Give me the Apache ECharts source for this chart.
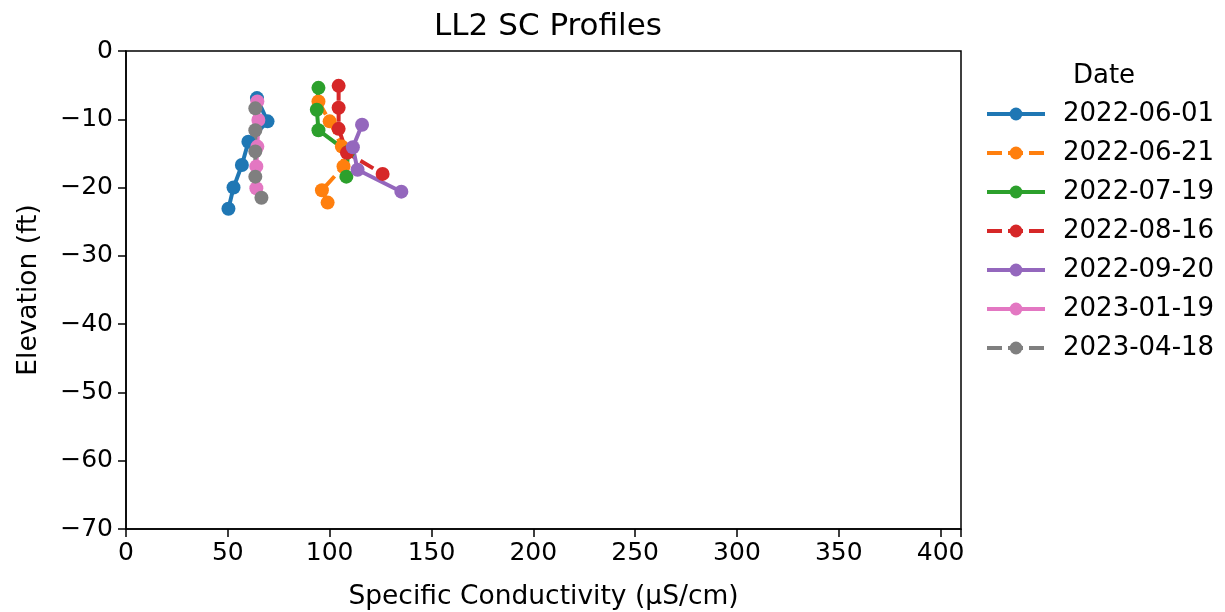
<!DOCTYPE html>
<html>
<head>
<meta charset="utf-8">
<script src="https://cdn.jsdelivr.net/npm/echarts@6/dist/echarts.min.js"></script>
<style>
  html, body { margin: 0; padding: 0; background: #fff; }
  #chart { width: 1225px; height: 612px; }
</style>
</head>
<body>
<div id="chart"></div>
<script>
// 各次测量的剖面数据 [电导率, 高程]
var dates = ['2022-06-01', '2022-06-21', '2022-07-19', '2022-08-16', '2022-09-20', '2023-01-19', '2023-04-18'];
var colors = ['#1f77b4', '#ff7f0e', '#2ca02c', '#d62728', '#9467bd', '#e377c2', '#7f7f7f'];
var dashed = [false, true, false, true, false, false, true];

var p20220601 = [[64.3, -6.9], [69.5, -10.3], [60.1, -13.3], [56.9, -16.7], [52.8, -20.0], [50.3, -23.1]];
var p20220621 = [[94.5, -7.4], [100.0, -10.3], [106.0, -14.0], [106.8, -16.9], [96.2, -20.4], [99.0, -22.2]];
var p20220719 = [[94.5, -5.4], [93.7, -8.6], [94.5, -11.6], [109.0, -14.8], [108.2, -18.4]];
var p20220816 = [[104.4, -5.1], [104.4, -8.3], [104.4, -11.4], [108.5, -14.9], [126.0, -18.0]];
var p20220920 = [[115.9, -10.8], [111.4, -14.1], [113.7, -17.4], [135.2, -20.6]];
var p20230119 = [[64.5, -7.4], [65.0, -10.1], [64.5, -14.0], [64.0, -16.9], [64.0, -20.1]];
var p20230418 = [[63.5, -8.4], [63.5, -11.6], [63.5, -14.7], [63.5, -18.4], [66.5, -21.5]];
var profiles = [p20220601, p20220621, p20220719, p20220816, p20220920, p20230119, p20230418];

var font = 'DejaVu Sans';

window.onload = function () {
    var chart = echarts.init(document.getElementById('chart'));

    var series = [];
    for (var i = 0; i < dates.length; i++) {
        series.push({
            name: dates[i],
            type: 'line',
            data: profiles[i],
            symbol: 'circle',
            symbolSize: 14,
            showAllSymbol: true,
            color: colors[i],
            lineStyle: {
                width: 4,
                color: colors[i],
                type: dashed[i] ? [15, 6] : 'solid'
            },
            itemStyle: { color: colors[i] },
            emphasis: { disabled: true },
            animation: false
        });
    }

    // 刻度标签：只显示步长的倍数，负号用 U+2212
    function tickFmt(step) {
        return function (v) {
            if (Math.abs(v % step) > 1e-9) return '';
            return String(v).replace('-', '\u2212');
        };
    }

    var option = {
        backgroundColor: '#fff',
        animation: false,
        title: [
            {
                text: 'LL2 SC Profiles',
                left: 543, top: 6, textAlign: 'center',
                textStyle: { fontFamily: font, fontSize: 31, fontWeight: 'normal', color: '#000' }
            },
            {
                text: 'Date',
                left: 1099, top: 58, textAlign: 'center',
                textStyle: { fontFamily: font, fontSize: 26, fontWeight: 'normal', color: '#000' }
            }
        ],
        grid: {
            left: 126, right: 264, top: 51, bottom: 83,
            containLabel: false,
            outerBoundsMode: 'none',
            show: true, borderColor: '#000', borderWidth: 1.5
        },
        legend: {
            orient: 'vertical',
            left: 980, top: 96,
            itemWidth: 58, itemHeight: 16,
            itemGap: 13,
            data: dates,
            lineStyle: { width: 4 },
            textStyle: {
                fontFamily: font, fontSize: 26, color: '#000',
                lineHeight: 26, padding: [0, 0, 0, 13]
            },
            selectedMode: false
        },
        xAxis: {
            type: 'value',
            min: 0, max: 410, interval: 50,
            name: 'Specific Conductivity (\u00b5S/cm)',
            nameLocation: 'middle', nameGap: 55,
            nameTextStyle: { fontFamily: font, fontSize: 26.5, color: '#000' },
            axisLine: { show: true, onZero: false, lineStyle: { color: '#000', width: 1.5 } },
            axisTick: { show: true, length: 8, lineStyle: { color: '#000', width: 1.5 } },
            axisLabel: { fontFamily: font, fontSize: 25, color: '#000', margin: 12, formatter: tickFmt(50) },
            splitLine: { show: false }
        },
        yAxis: {
            type: 'value',
            min: -70, max: 0, interval: 10,
            name: 'Elevation (ft)',
            nameLocation: 'middle', nameGap: 83,
            nameTextStyle: { fontFamily: font, fontSize: 26.5, color: '#000' },
            axisLine: { show: true, onZero: false, lineStyle: { color: '#000', width: 1.5 } },
            axisTick: { show: true, length: 8, lineStyle: { color: '#000', width: 1.5 } },
            axisLabel: { fontFamily: font, fontSize: 25, color: '#000', margin: 13, formatter: tickFmt(10) },
            splitLine: { show: false }
        },
        series: series
    };

    chart.setOption(option);
};
</script>
</body>
</html>
